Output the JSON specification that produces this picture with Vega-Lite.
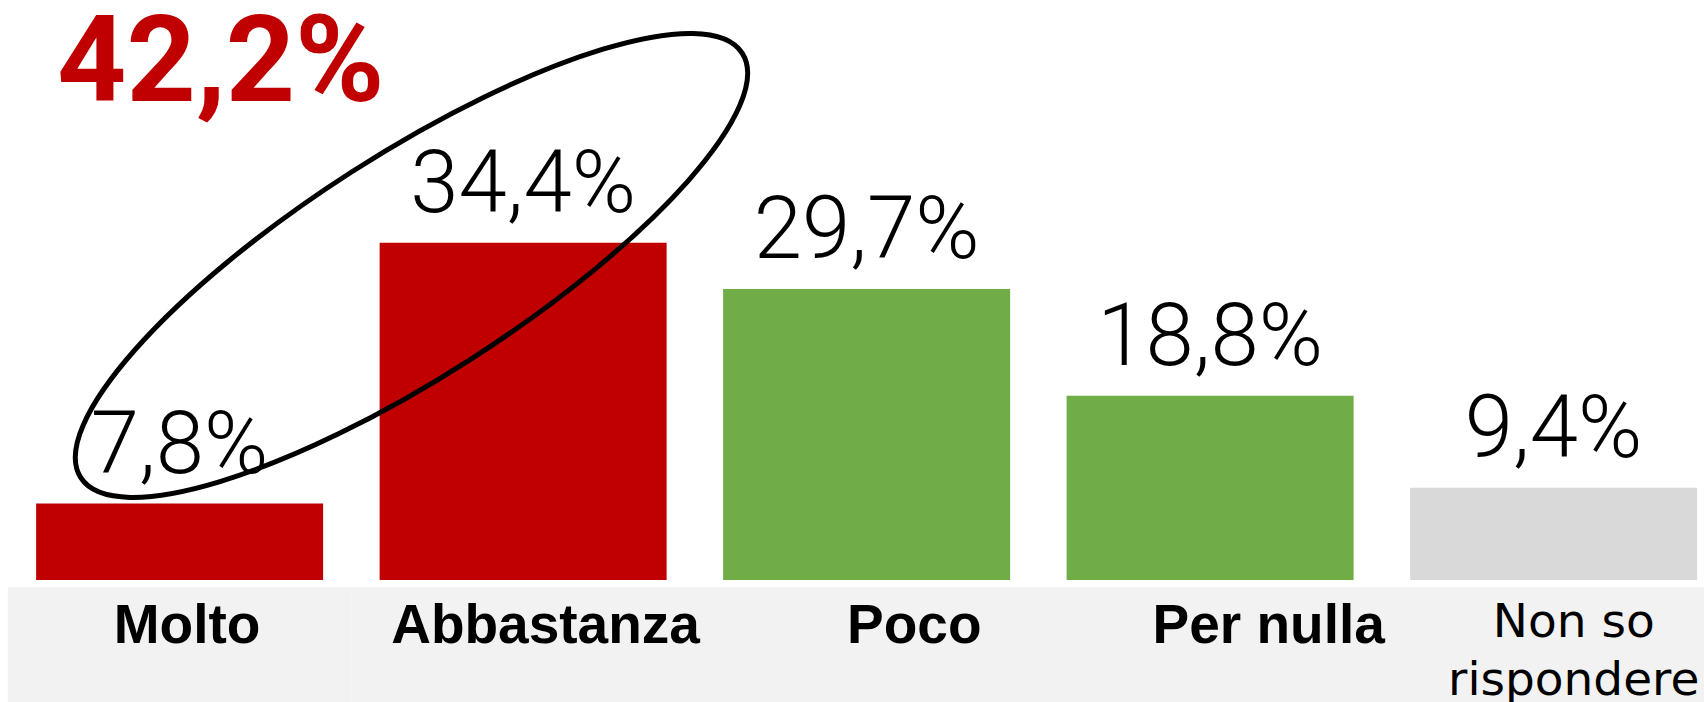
{
  "$schema": "https://vega.github.io/schema/vega-lite/v6.json",
  "width": 1704,
  "height": 702,
  "padding": 0,
  "autosize": {"type": "none"},
  "background": "white",
  "config": {"view": {"stroke": null}},
  "datasets": {
    "bars": [
      {"cat": "Molto", "v": 7.8, "label": "7,8%"},
      {"cat": "Abbastanza", "v": 34.4, "label": "34,4%"},
      {"cat": "Poco", "v": 29.7, "label": "29,7%"},
      {"cat": "Per nulla", "v": 18.8, "label": "18,8%"},
      {"cat": "Non so rispondere", "v": 9.4, "label": "9,4%"}
    ],
    "axislabels": [
      {"cat": "Molto", "text": "Molto"},
      {"cat": "Abbastanza", "text": "Abbastanza"},
      {"cat": "Poco", "text": "Poco"},
      {"cat": "Per nulla", "text": "Per nulla"},
      {"cat": "Non so rispondere", "text": ["Non so", "rispondere"]}
    ],
    "total": [{"cat": "Molto", "label": "42,2%"}],
    "ellipse": [{"cat": "Abbastanza", "note": "Molto + Abbastanza"}]
  },
  "layer": [
    {
      "data": {"name": "bars"},
      "mark": {"type": "bar"},
      "encoding": {
        "x": {
          "field": "cat", "type": "nominal", "sort": null, "axis": null,
          "scale": {
            "domain": ["Molto", "Abbastanza", "Poco", "Per nulla", "Non so rispondere"],
            "paddingInner": 0.1645, "paddingOuter": 0.0626, "align": 0.84
          }
        },
        "y": {
          "field": "v", "type": "quantitative", "axis": null,
          "scale": {"domain": [-12.45, 59.18], "nice": false, "zero": false}
        },
        "color": {
          "field": "cat", "type": "nominal", "legend": null,
          "scale": {
            "domain": ["Molto", "Abbastanza", "Poco", "Per nulla", "Non so rispondere"],
            "range": ["#c00000", "#c00000", "#70ad47", "#70ad47", "#d9d9d9"]
          }
        }
      }
    },
    {
      "data": {"name": "axislabels"},
      "mark": {"type": "bar", "color": "#f2f2f2", "width": {"band": 1.197}},
      "encoding": {
        "x": {"field": "cat", "type": "nominal", "sort": null},
        "y": {"datum": -0.71, "type": "quantitative"},
        "y2": {"datum": -12.45}
      }
    },
    {
      "data": {"name": "bars"},
      "mark": {"type": "text", "font": "Roboto", "fontWeight": 300, "fontSize": 87, "dy": -31, "baseline": "alphabetic", "align": "center", "color": "black"},
      "encoding": {
        "x": {"field": "cat", "type": "nominal", "sort": null},
        "y": {"field": "v", "type": "quantitative"},
        "text": {"field": "label"}
      }
    },
    {
      "data": {"name": "axislabels"},
      "transform": [{"filter": "datum.cat === 'Molto'"}],
      "mark": {"type": "text", "font": "Liberation Sans", "fontWeight": "bold", "fontSize": 55, "baseline": "alphabetic", "align": "center", "color": "black"},
      "encoding": {
        "x": {"field": "cat", "type": "nominal", "sort": null, "bandPosition": 0.526},
        "y": {"datum": -6.43, "type": "quantitative"},
        "text": {"field": "text"}
      }
    },
    {
      "data": {"name": "axislabels"},
      "transform": [{"filter": "datum.cat === 'Abbastanza'"}],
      "mark": {"type": "text", "font": "Liberation Sans", "fontWeight": "bold", "fontSize": 55, "baseline": "alphabetic", "align": "center", "color": "black"},
      "encoding": {
        "x": {"field": "cat", "type": "nominal", "sort": null, "bandPosition": 0.578},
        "y": {"datum": -6.43, "type": "quantitative"},
        "text": {"field": "text"}
      }
    },
    {
      "data": {"name": "axislabels"},
      "transform": [{"filter": "datum.cat === 'Poco'"}],
      "mark": {"type": "text", "font": "Liberation Sans", "fontWeight": "bold", "fontSize": 55, "baseline": "alphabetic", "align": "center", "color": "black"},
      "encoding": {
        "x": {"field": "cat", "type": "nominal", "sort": null, "bandPosition": 0.666},
        "y": {"datum": -6.43, "type": "quantitative"},
        "text": {"field": "text"}
      }
    },
    {
      "data": {"name": "axislabels"},
      "transform": [{"filter": "datum.cat === 'Per nulla'"}],
      "mark": {"type": "text", "font": "Liberation Sans", "fontWeight": "bold", "fontSize": 55, "baseline": "alphabetic", "align": "center", "color": "black"},
      "encoding": {
        "x": {"field": "cat", "type": "nominal", "sort": null, "bandPosition": 0.704},
        "y": {"datum": -6.43, "type": "quantitative"},
        "text": {"field": "text"}
      }
    },
    {
      "data": {"name": "axislabels"},
      "transform": [{"filter": "datum.cat === 'Non so rispondere'"}],
      "mark": {"type": "text", "font": "DejaVu Sans", "fontWeight": "normal", "fontSize": 47, "lineHeight": 58, "baseline": "alphabetic", "align": "center", "color": "black"},
      "encoding": {
        "x": {"field": "cat", "type": "nominal", "sort": null, "bandPosition": 0.57},
        "y": {"datum": -5.82, "type": "quantitative"},
        "text": {"field": "text"}
      }
    },
    {
      "data": {"name": "total"},
      "mark": {"type": "text", "font": "Roboto", "fontWeight": "bold", "fontSize": 121, "color": "#c00000", "align": "left", "baseline": "alphabetic"},
      "encoding": {
        "x": {"field": "cat", "type": "nominal", "sort": null, "bandPosition": 0.073},
        "y": {"datum": 48.9, "type": "quantitative"},
        "text": {"field": "label"}
      }
    },
    {
      "data": {"name": "ellipse"},
      "mark": {
        "type": "point",
        "shape": "M 1 0 C 1 0.156 0.5523 0.2824 0 0.2824 C -0.5523 0.2824 -1 0.156 -1 0 C -1 -0.156 -0.5523 -0.2824 0 -0.2824 C 0.5523 -0.2824 1 -0.156 1 0 Z",
        "size": 617796,
        "angle": 327.3,
        "filled": false,
        "color": "black",
        "stroke": "black",
        "strokeWidth": 5,
        "opacity": 1
      },
      "encoding": {
        "x": {"field": "cat", "type": "nominal", "sort": null, "bandPosition": 0.111},
        "y": {"datum": 32.1, "type": "quantitative"}
      }
    }
  ]
}
